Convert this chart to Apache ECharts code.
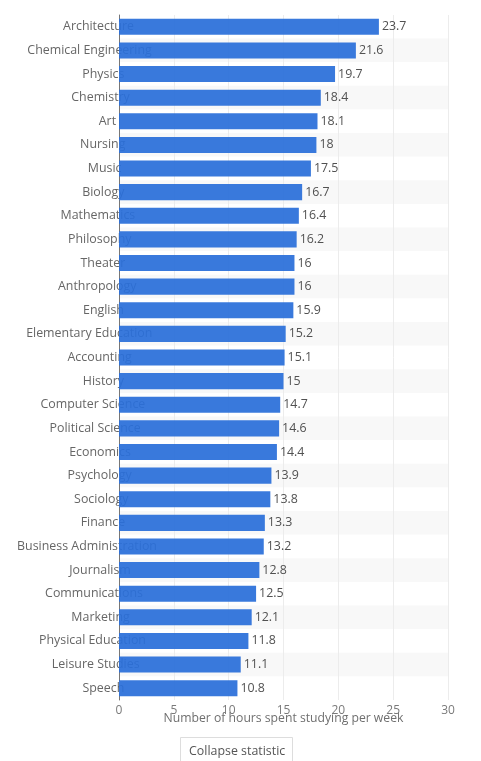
<!DOCTYPE html>
<html>
<head>
<meta charset="utf-8">
<script src="https://cdn.jsdelivr.net/npm/echarts@6/dist/echarts.min.js"></script>
<style>
html,body{margin:0;padding:0;background:#fff;}
#chart{width:481px;height:761px;}
</style>
</head>
<body>
<div id="chart"></div>
<script>
var categories = ['Architecture','Chemical Engineering','Physics','Chemistry','Art','Nursing','Music','Biology','Mathematics','Philosophy','Theater','Anthropology','English','Elementary Education','Accounting','History','Computer Science','Political Science','Economics','Psychology','Sociology','Finance','Business Administration','Journalism','Communications','Marketing','Physical Education','Leisure Studies','Speech'];
var hours = [23.7,21.6,19.7,18.4,18.1,18,17.5,16.7,16.4,16.2,16,16,15.9,15.2,15.1,15,14.7,14.6,14.4,13.9,13.8,13.3,13.2,12.8,12.5,12.1,11.8,11.1,10.8];
var xMin = 0, xMax = 30, xStep = 5;
var axisTitle = 'Number of hours spent studying per week';
var buttonText = 'Collapse statistic';

var FONT = '"Open Sans", sans-serif';
var LABEL_SIZE = 12.4;
var chart = echarts.init(document.getElementById('chart'), null, {renderer: 'canvas'});
chart.setOption({
  backgroundColor: '#ffffff',
  animation: false,
  grid: {left: 119, right: 33, top: 15, bottom: 61, containLabel: false},
  xAxis: {
    type: 'value', min: xMin, max: xMax, interval: xStep,
    name: axisTitle, nameLocation: 'middle', nameGap: 13, nameMoveOverlap: false,
    nameTextStyle: {color: '#6f6f6f', fontSize: 12.2, fontFamily: FONT},
    axisLine: {show: false}, axisTick: {show: false},
    axisLabel: {color: '#7a7a7a', fontSize: 12, fontFamily: FONT, margin: 5},
    splitLine: {show: true, lineStyle: {color: '#ececec', width: 1}}
  },
  yAxis: {
    type: 'category', data: categories, inverse: true,
    axisLine: {show: true, lineStyle: {color: '#777', width: 1}},
    axisTick: {show: false},
    splitArea: {show: true, areaStyle: {color: ['#ffffff', '#f8f8f8']}},
    axisLabel: {
      interval: 0, align: 'center', margin: 8.7,
      formatter: function (v) { return '{v|' + v + '}{h|' + v + '}'; },
      rich: {
        v: {color: '#666', fontSize: LABEL_SIZE, fontFamily: FONT, textBorderColor: '#fff', textBorderWidth: 2},
        h: {color: 'rgba(0,0,0,0)', fontSize: LABEL_SIZE / 3, fontFamily: FONT}
      }
    }
  },
  series: [{
    type: 'bar', data: hours, barCategoryGap: '32%',
    itemStyle: {color: '#2a6fd9', opacity: 0.93},
    label: {show: true, position: 'right', distance: 3, color: '#444', fontSize: 12.4, fontFamily: FONT}
  }],
  graphic: [
    {type: 'rect', left: 180, top: 737, shape: {width: 112, height: 30},
     style: {fill: '#fff', stroke: '#dddddd', lineWidth: 1}},
    {type: 'text', left: 189, top: 745, style: {text: buttonText, fill: '#555', fontSize: 12.4, fontFamily: FONT}}
  ]
});
</script>
</body>
</html>
